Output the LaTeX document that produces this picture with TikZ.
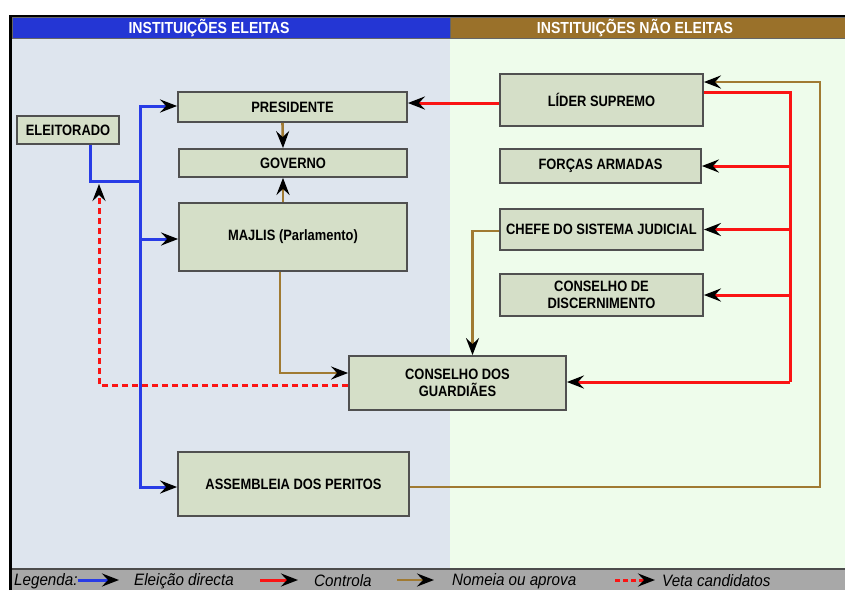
\documentclass[tikz,border=0pt]{standalone}
\usepackage{fontspec}
\setmainfont{Liberation Sans}
\newfontfamily\boxfont[FakeStretch=0.86]{Liberation Sans}
\newfontfamily\hdrfont[FakeStretch=0.88]{Liberation Sans}
\newfontfamily\legfont[FakeStretch=0.92]{Liberation Sans}
\usetikzlibrary{arrows.meta}
\definecolor{panelL}{RGB}{222,229,238}
\definecolor{panelR}{RGB}{238,252,235}
\definecolor{hdrB}{RGB}{36,54,212}
\definecolor{hdrN}{RGB}{154,113,42}
\definecolor{boxfill}{RGB}{213,223,200}
\definecolor{boxline}{RGB}{80,80,80}
\definecolor{elblue}{RGB}{40,60,230}
\definecolor{ctred}{RGB}{250,20,20}
\definecolor{nmbrown}{RGB}{160,122,50}
\definecolor{legbar}{RGB}{168,168,168}
\begin{document}
\begin{tikzpicture}[x=1pt,y=-1pt,
  inst/.style={draw=boxline, line width=1.8pt, fill=boxfill,
    font=\boxfont\bfseries\fontsize{15}{17}\selectfont, align=center, inner sep=0pt},
  hdr/.style={font=\hdrfont\bfseries\fontsize{16}{18}\selectfont, text=white},
  stk/.style={-{Stealth[length=17pt,width=13pt,inset=6pt,color=black]}},
  bl/.style={draw=elblue, line width=3pt},
  rd/.style={draw=ctred, line width=3pt},
  br/.style={draw=nmbrown, line width=2.6pt},
  rdash/.style={draw=ctred, line width=3pt, dash pattern=on 6pt off 4pt},
  legtext/.style={anchor=west, font=\legfont\itshape\fontsize{16.5}{18}\selectfont, inner sep=0pt}
]
\useasboundingbox (0,0) rectangle (845,590);
\fill[white] (0,0) rectangle (845,590);
% panels
\fill[panelL] (12,38) rectangle (450,569);
\fill[panelR] (450,38) rectangle (845,569);
% headers
\draw[fill=hdrB, draw=black!60, line width=1pt] (12,17.5) rectangle (450,38);
\draw[fill=hdrN, draw=black!60, line width=1pt] (450,17.5) rectangle (846,38);
\node[hdr] (hl) at (209,28.5) {INSTITUIÇÕES ELEITAS};
\node[hdr] (hr) at (635,28.5) {INSTITUIÇÕES NÃO ELEITAS};
% legend bar
\fill[legbar] (12,569) rectangle (845,590);
\draw[black!70, line width=1.2pt] (12,569) -- (845,569);
% frame
\draw[black, line width=2.4pt] (10.5,590) -- (10.5,16) -- (845,16);

% boxes
\node[inst, minimum width=102pt, minimum height=28pt] (eleit) at (68,130) {ELEITORADO};
\node[inst, minimum width=229pt, minimum height=30pt] (pres) at (292.5,107) {PRESIDENTE};
\node[inst, minimum width=228pt, minimum height=28pt] (gov) at (293,163) {GOVERNO};
\node[inst, minimum width=228pt, minimum height=68pt] (majlis) at (293,237) {MAJLIS (Parlamento)};
\node[inst, minimum width=203pt, minimum height=52pt] (lider) at (601.5,100) {LÍDER SUPREMO};
\node[inst, minimum width=201pt, minimum height=34pt] (forcas) at (600.5,166) {FORÇAS ARMADAS};
\node[inst, minimum width=203pt, minimum height=41pt] (chefe) at (601.5,229.5) {CHEFE DO SISTEMA JUDICIAL};
\node[inst, minimum width=203pt, minimum height=42pt] (disc) at (601.5,295) {CONSELHO DE\\DISCERNIMENTO};
\node[inst, minimum width=217pt, minimum height=54pt] (guard) at (457.5,383) {CONSELHO DOS\\GUARDIÃES};
\node[inst, minimum width=231pt, minimum height=64pt] (assem) at (293.5,484) {ASSEMBLEIA DOS PERITOS};

% helper coordinates
\coordinate (jt) at (140,181);
\coordinate (vt) at (99,184);
\coordinate (bk) at (820,82);
\coordinate (rtop) at (790,92);
\coordinate (rbot) at (790,382);

% nomeia (brown)
\draw[br,stk] ([xshift=-10pt]pres.south) -- ([xshift=-10pt]gov.north);
\draw[br,stk] ([xshift=-10pt]majlis.north) -- ([xshift=-10pt]gov.south);
\draw[br,stk] ([xshift=-13pt]majlis.south) |- ([yshift=10pt]guard.west);
\draw[br,stk] ([yshift=-1.5pt]chefe.west) -| ([xshift=15pt]guard.north);
\draw[br,stk] ([yshift=-3pt]assem.east) -| (bk) -- (bk -| lider.east);

% veta (red dashed)
\draw[rdash,stk] ([yshift=-2pt]guard.west) -| (vt);

% eleicao (blue)
\draw[bl] ([xshift=22pt]eleit.south) |- (jt);
\draw[bl,stk] (jt) |- ([yshift=1pt]pres.west);
\draw[bl,stk] (jt) |- ([yshift=-2pt]majlis.west);
\draw[bl,stk] (jt) |- ([yshift=-3pt]assem.west);

% controla (red)
\draw[rd,stk] ([yshift=-3pt]lider.west) -- ([yshift=-3pt]lider.west -| pres.east);
\draw[rd] (rtop -| lider.east) -- (rtop) -- (rbot);
\draw[rd,stk] (rbot) -- (rbot -| guard.east);
\draw[rd,stk] (rtop |- forcas.east) -- (forcas.east);
\draw[rd,stk] (rtop |- chefe.east) -- (chefe.east);
\draw[rd,stk] (rtop |- disc.east) -- (disc.east);

% legend
\node[legtext] (lg) at (14,581) {Legenda:};
\coordinate (la1) at (119,580);
\draw[bl,stk] (lg.east |- la1) -- (la1);
\node[legtext] (l1) at (134,581) {Eleição directa};
\coordinate (lb0) at (260,580);
\coordinate (lb1) at (298,580);
\draw[rd,stk] (lb0) -- (lb1);
\node[legtext] (l2) at (314,581) {Controla};
\coordinate (lc0) at (397,580);
\coordinate (lc1) at (434,580);
\draw[br,stk] (lc0) -- (lc1);
\node[legtext] (l3) at (452,581) {Nomeia ou aprova};
\coordinate (ld0) at (615,580);
\coordinate (ld1) at (655,580);
\draw[rdash,dash pattern=on 5pt off 3pt,stk] (ld0) -- (ld1);
\node[legtext] (l4) at (662,581) {Veta candidatos};
\end{tikzpicture}
\end{document}
